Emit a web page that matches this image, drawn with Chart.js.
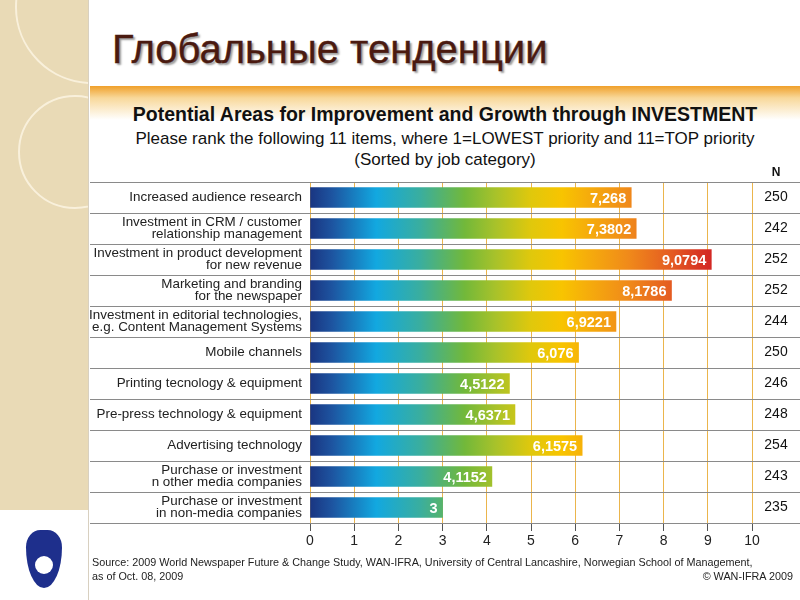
<!DOCTYPE html>
<html>
<head>
<meta charset="utf-8">
<script src="https://cdn.jsdelivr.net/npm/chart.js@4/dist/chart.umd.min.js"></script>
<style>
    body { margin: 0; width: 800px; height: 600px; overflow: hidden; background: #fff; font-family: "Liberation Sans", Arial, sans-serif; position: relative; }
    #stripe { position: absolute; left: 0; top: 0; width: 88px; height: 510px; background: #e9dab6; overflow: hidden; border-right: 1px solid #d8d0c0; }
    .ring { position: absolute; border-radius: 50%; border: 2px solid rgba(255, 250, 235, 0.7); }
    #edge { position: absolute; left: 88px; top: 510px; width: 1px; height: 90px; background: #d8d0c0; }
    #slideTitle { position: absolute; left: 112px; top: 27px; font-size: 40px; color: #4a1a10; -webkit-text-stroke: 0.4px #4a1a10; text-shadow: 2px 2px 2px rgba(0, 0, 0, 0.4); white-space: nowrap; }
    #band { position: absolute; left: 90px; top: 86px; width: 710px; height: 34px; background: linear-gradient(to bottom, #f0a02a 0%, #f8d89a 35%, #ffffff 100%); }
    .head { position: absolute; left: 90px; width: 710px; text-align: center; color: #111; white-space: nowrap; }
    #h1 { top: 103px; font-size: 19.5px; font-weight: bold; }
    #h2 { top: 129px; font-size: 17px; }
    #h3 { top: 150px; font-size: 17px; }
    #chart { position: absolute; left: 90px; top: 165px; }
    .src { position: absolute; font-size: 10.8px; color: #222; white-space: nowrap; }
    #logo { position: absolute; left: 26px; top: 530px; width: 36px; height: 58px; background: #1e2f8c; border-radius: 40% 40% 50% 50% / 30% 30% 70% 70%; }
    #logo div { position: absolute; left: 9px; top: 26px; width: 18px; height: 18px; border-radius: 50%; background: #fff; }
</style>
</head>
<body>
<div id="stripe">
    <div class="ring" style="left: 15px; top: -70px; width: 150px; height: 150px;"></div>
    <div class="ring" style="left: 18px; top: 95px; width: 110px; height: 110px;"></div>
</div>
<div id="edge"></div>
<div id="logo"><div></div></div>
<div id="slideTitle">Глобальные тенденции</div>
<div id="band"></div>
<div class="head" id="h1">Potential Areas for Improvement and Growth through INVESTMENT</div>
<div class="head" id="h2">Please rank the following 11 items, where 1=LOWEST priority and 11=TOP priority</div>
<div class="head" id="h3">(Sorted by job category)</div>
<canvas id="chart" width="710" height="435"></canvas>
<div class="src" style="left: 92px; top: 556px;">Source: 2009 World Newspaper Future &amp; Change Study, WAN-IFRA, University of Central Lancashire, Norwegian School of Management,</div>
<div class="src" style="left: 92px; top: 570px;">as of Oct. 08, 2009</div>
<div class="src" style="right: 7px; top: 570px;">© WAN-IFRA 2009</div>

<script>
'use strict';

let categories = [
    'Increased audience research',
    ['Investment in CRM / customer', 'relationship management'],
    ['Investment in product development', 'for new revenue'],
    ['Marketing and branding', 'for the newspaper'],
    ['Investment in editorial technologies,', 'e.g. Content Management Systems'],
    'Mobile channels',
    'Printing tecnology & equipment',
    'Pre-press technology & equipment',
    'Advertising technology',
    ['Purchase or investment', 'n other media companies'],
    ['Purchase or investment', 'in non-media companies']
];
let scores = [7.268, 7.3802, 9.0794, 8.1786, 6.9221, 6.076, 4.5122, 4.6371, 6.1575, 4.1152, 3];
let respondents = [250, 242, 252, 252, 244, 250, 246, 248, 254, 243, 235];
let xMin = 0;
let xMax = 10;

function barGradient(context) {
    let chart = context.chart;
    if (!chart.chartArea) {
        return '#14a6de';
    }
    let x = chart.scales.x;
    let g = chart.ctx.createLinearGradient(x.getPixelForValue(0), 0, x.getPixelForValue(10), 0);
    g.addColorStop(0, '#1a3581');
    g.addColorStop(0.05, '#1d54a0');
    g.addColorStop(0.15, '#12a8e0');
    g.addColorStop(0.25, '#3aae9e');
    g.addColorStop(0.35, '#72b83a');
    g.addColorStop(0.42, '#a8c22a');
    g.addColorStop(0.5, '#e0c80c');
    g.addColorStop(0.57, '#f8c400');
    g.addColorStop(0.62, '#f6b00a');
    g.addColorStop(0.72, '#f08a1a');
    g.addColorStop(0.82, '#e45a22');
    g.addColorStop(0.9, '#d42a24');
    g.addColorStop(1, '#c81828');
    return g;
}

// row separators, N column and the numbers on the bars
let tablePlugin = {
    id: 'table',
    beforeDatasetsDraw: function (chart) {
        let ctx = chart.ctx;
        let area = chart.chartArea;
        let rowH = (area.bottom - area.top) / categories.length;
        ctx.save();
        ctx.strokeStyle = '#8a8a8a';
        ctx.lineWidth = 1;
        for (let i = 0; i <= categories.length; i++) {
            let y = Math.round(area.top + i * rowH) + 0.5;
            ctx.beginPath();
            ctx.moveTo(0, y);
            ctx.lineTo(chart.width, y);
            ctx.stroke();
        }
        ctx.restore();
    },
    afterDatasetsDraw: function (chart) {
        let ctx = chart.ctx;
        let meta = chart.getDatasetMeta(0);
        let nx = (chart.chartArea.right + chart.width) / 2;
        ctx.save();
        ctx.textBaseline = 'middle';
        ctx.textAlign = 'center';
        ctx.fillStyle = '#111';
        ctx.font = 'bold 12px "Liberation Sans", Arial, sans-serif';
        ctx.fillText('N', nx, 8);
        ctx.font = '14px "Liberation Sans", Arial, sans-serif';
        for (let i = 0; i < respondents.length; i++) {
            ctx.fillText(String(respondents[i]), nx, meta.data[i].y);
        }
        ctx.textAlign = 'right';
        ctx.fillStyle = '#fff';
        ctx.font = 'bold 14.5px "Liberation Sans", Arial, sans-serif';
        for (let i = 0; i < scores.length; i++) {
            let bar = meta.data[i];
            ctx.fillText(String(scores[i]).replace('.', ','), bar.x - 5, bar.y + 1);
        }
        ctx.restore();
    }
};

let ctx = document.getElementById('chart').getContext('2d');
let myChart = new Chart(ctx, {
    type: 'bar',
    data: {
        labels: categories,
        datasets: [{
            data: scores,
            backgroundColor: barGradient,
            barThickness: 20,
            borderWidth: 0
        }]
    },
    options: {
        indexAxis: 'y',
        responsive: false,
        animation: false,
        layout: {
            padding: { top: 17, right: 48, left: 0, bottom: 0 }
        },
        plugins: {
            legend: { display: false },
            tooltip: { enabled: false }
        },
        scales: {
            x: {
                min: xMin,
                max: xMax,
                ticks: {
                    stepSize: 1,
                    color: '#222',
                    padding: 2,
                    font: { family: '"Liberation Sans", Arial, sans-serif', size: 14 }
                },
                grid: {
                    color: '#ebb54c',
                    lineWidth: 1,
                    tickLength: 8,
                    tickColor: '#555'
                },
                border: { display: false },
                afterFit: function (scale) {
                    scale.height = 77;
                }
            },
            y: {
                ticks: {
                    color: '#222',
                    padding: 0,
                    font: { family: '"Liberation Sans", Arial, sans-serif', size: 13.4, lineHeight: 0.93 }
                },
                grid: { display: false },
                border: { display: false },
                afterFit: function (scale) {
                    scale.width = 220;
                }
            }
        }
    },
    plugins: [tablePlugin]
});
</script>
</body>
</html>
